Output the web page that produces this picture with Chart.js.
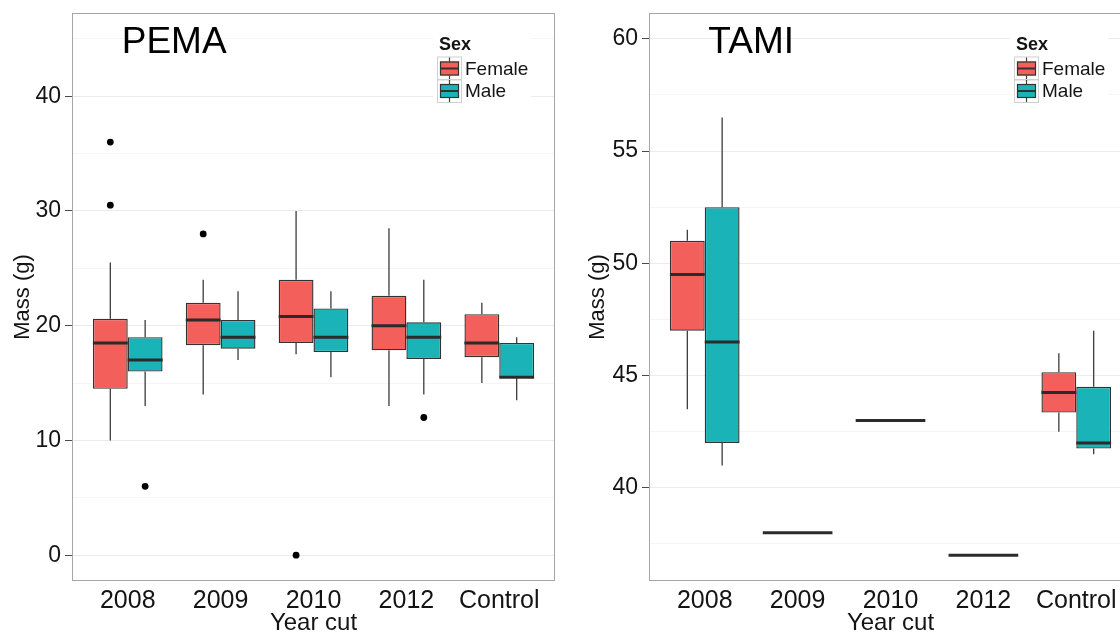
<!DOCTYPE html>
<html>
<head>
<meta charset="utf-8">
<script src="https://cdn.jsdelivr.net/npm/chart.js@4.4.1/dist/chart.umd.min.js"></script>
<style>
  html, body { margin: 0; padding: 0; background: #fff; overflow: hidden; }
  #wrap { position: relative; width: 1120px; height: 635px; overflow: hidden; background: #fff; }
  #pemaBox { position: absolute; left: 0; top: 0; width: 560px; height: 635px; }
  #tamiBox { position: absolute; left: 560px; top: 0; width: 600px; height: 635px; }
</style>
</head>
<body>
<div id="wrap">
  <div id="pemaBox"><canvas id="pemaChart" width="560" height="635"></canvas></div>
  <div id="tamiBox"><canvas id="tamiChart" width="600" height="635"></canvas></div>
</div>
<script>
const yearCut = ["2008", "2009", "2010", "2012", "Control"];
const sexes = ["Female", "Male"];
const sexColors = ["#F35F5A", "#1AB3B8"];

// box summaries per year cut: [lower whisker, Q1, median, Q3, upper whisker]
const pemaFemale = [
  [10, 14.5, 18.5, 20.6, 25.5],
  [14, 18.3, 20.5, 22, 24],
  [17.5, 18.5, 20.8, 24, 30],
  [13, 17.85, 20, 22.6, 28.5],
  [15, 17.25, 18.5, 21, 22],
];
const pemaMale = [
  [13, 16, 17, 19, 20.5],
  [17, 18, 19, 20.5, 23],
  [15.5, 17.7, 19, 21.5, 23],
  [14, 17.1, 19, 20.3, 24],
  [13.5, 15.5, 15.5, 18.5, 19],
];
const pemaFemaleOutliers = [[30.5, 36], [28], [0], [], []];
const pemaMaleOutliers = [[6], [], [], [12], []];

const tamiFemale = [
  [43.5, 47, 49.5, 51, 51.5],
  [38, 38, 38, 38, 38],
  [43, 43, 43, 43, 43],
  [37, 37, 37, 37, 37],
  [42.5, 43.35, 44.25, 45.15, 46],
];
const tamiMale = [
  [41, 42, 46.5, 52.5, 56.5],
  null,
  null,
  null,
  [41.5, 41.75, 42, 44.5, 47],
];
const tamiFemaleOutliers = [[], [], [], [], []];
const tamiMaleOutliers = [[], [], [], [], []];

const FONT = "'Liberation Sans', Arial, sans-serif";
const TEXT = "#141414";

// whiskers, medians and outlying points on top of the floating bars
const boxWhiskers = {
  id: "boxWhiskers",
  afterDatasetsDraw(chart) {
    const { ctx } = chart;
    const y = chart.scales.y;
    chart.data.datasets.forEach((ds, di) => {
      const meta = chart.getDatasetMeta(di);
      meta.data.forEach((bar, i) => {
        const s = ds.summary[i];
        if (!s) return;
        const half = bar.width / 2;
        ctx.save();
        ctx.strokeStyle = "#3c3c3c";
        ctx.lineWidth = 1.3;
        ctx.beginPath();
        ctx.moveTo(bar.x, y.getPixelForValue(s[3]));
        ctx.lineTo(bar.x, y.getPixelForValue(s[4]));
        ctx.moveTo(bar.x, y.getPixelForValue(s[1]));
        ctx.lineTo(bar.x, y.getPixelForValue(s[0]));
        ctx.stroke();

        ctx.strokeStyle = "#2b2b2b";
        ctx.lineWidth = 3;
        ctx.beginPath();
        const my = y.getPixelForValue(s[2]);
        ctx.moveTo(bar.x - half, my);
        ctx.lineTo(bar.x + half, my);
        ctx.stroke();

        ctx.fillStyle = "#000";
        (ds.outliers[i] || []).forEach((v) => {
          ctx.beginPath();
          ctx.arc(bar.x, y.getPixelForValue(v), 3.4, 0, Math.PI * 2);
          ctx.fill();
        });
        ctx.restore();
      });
    });
  },
};

// panel frame, species label and the Sex legend
const panelDecor = {
  id: "panelDecor",
  afterDraw(chart, args, opts) {
    const { ctx, chartArea: a, scales } = chart;
    ctx.save();
    ctx.strokeStyle = "#a6a6a6";
    ctx.lineWidth = 1;
    ctx.strokeRect(a.left + 0.5, a.top + 0.5, a.right - a.left - 1, a.bottom - a.top - 1);

    // species label placed in data coordinates
    ctx.fillStyle = "#000";
    ctx.font = "37px " + FONT;
    ctx.textAlign = "center";
    ctx.textBaseline = "alphabetic";
    ctx.fillText(opts.label, scales.x.getPixelForValue(opts.labelX), scales.y.getPixelForValue(opts.labelY) + 14);

    // legend
    const lx = a.right - 116;
    ctx.fillStyle = "#fff";
    ctx.fillRect(lx - 6, 28, 98, 78);
    ctx.fillStyle = TEXT;
    ctx.textAlign = "left";
    ctx.textBaseline = "middle";
    ctx.font = "bold 18px " + FONT;
    ctx.fillText("Sex", lx, 45);
    const rows = [68.5, 91];
    sexes.forEach((name, k) => {
      const cy = rows[k];
      const kx = lx - 2;
      ctx.strokeStyle = "#d0d0d0";
      ctx.lineWidth = 1;
      ctx.strokeRect(kx + 0.5, cy - 11.5, 24, 23);
      ctx.strokeStyle = "#3c3c3c";
      ctx.lineWidth = 1.2;
      ctx.beginPath();
      ctx.moveTo(kx + 12.5, cy - 11);
      ctx.lineTo(kx + 12.5, cy + 11);
      ctx.stroke();
      ctx.fillStyle = sexColors[k];
      ctx.fillRect(kx + 3, cy - 7, 19, 14);
      ctx.strokeStyle = "#333";
      ctx.strokeRect(kx + 3.5, cy - 6.5, 18, 13);
      ctx.lineWidth = 2;
      ctx.beginPath();
      ctx.moveTo(kx + 3, cy);
      ctx.lineTo(kx + 22, cy);
      ctx.stroke();
      ctx.fillStyle = TEXT;
      ctx.font = "19px " + FONT;
      ctx.fillText(name, lx + 26, cy + 1);
    });
    ctx.restore();
  },
};

function boxDataset(k, summary, outliers) {
  return {
    label: sexes[k],
    data: summary.map((s, i) => ({ x: i + 1, y: s ? [s[1], s[3]] : null })),
    summary: summary,
    outliers: outliers,
    backgroundColor: sexColors[k],
    borderColor: "#333333",
    borderWidth: 1.4,
    borderSkipped: false,
    categoryPercentage: 0.75,
    barPercentage: 1.0,
  };
}

function makePanel(canvasId, cfg) {
  const canvas = document.getElementById(canvasId);
  const area = cfg.area;
  return new Chart(canvas, {
    type: "bar",
    data: {
      datasets: [
        boxDataset(0, cfg.female, cfg.femaleOut),
        boxDataset(1, cfg.male, cfg.maleOut),
      ],
    },
    options: {
      responsive: false,
      animation: false,
      devicePixelRatio: 1,
      skipNull: true,
      layout: {
        padding: { left: 0, top: area.top, right: canvas.width - area.right, bottom: 0 },
      },
      scales: {
        x: {
          type: "linear",
          min: 0.4,
          max: 5.6,
          offset: false,
          afterFit(scale) {
            scale.height = canvas.height - area.bottom;
            scale.paddingLeft = 0;
            scale.paddingRight = 0;
          },
          afterBuildTicks(scale) {
            scale.ticks = yearCut.map((_, i) => ({ value: i + 1 }));
          },
          ticks: {
            autoSkip: false,
            maxRotation: 0,
            padding: 5,
            color: TEXT,
            font: { family: FONT, size: 25 },
            callback: (v) => yearCut[Math.round(v) - 1],
          },
          grid: { display: false, drawTicks: false, offset: false },
          border: { display: false },
          title: {
            display: true,
            text: "Year cut",
            color: TEXT,
            font: { family: FONT, size: 24, lineHeight: 1 },
            padding: { top: 0, bottom: 0 },
          },
        },
        y: {
          min: cfg.yMin,
          max: cfg.yMax,
          afterFit(scale) {
            scale.width = area.left;
            scale.paddingTop = 0;
            scale.paddingBottom = 0;
          },
          ticks: {
            stepSize: cfg.minorStep,
            includeBounds: false,
            autoSkip: false,
            padding: 4,
            color: TEXT,
            font: { family: FONT, size: 23 },
            callback: (v) => (Math.abs(v % cfg.majorStep) < 1e-6 ? String(v) : ""),
          },
          grid: {
            lineWidth: 1,
            tickLength: 7,
            color: (c) => (c.tick && Math.abs(c.tick.value % cfg.majorStep) < 1e-6 ? "#ebebeb" : "#f5f5f5"),
            tickColor: (c) => (c.tick && Math.abs(c.tick.value % cfg.majorStep) < 1e-6 ? "#4a4a4a" : "rgba(0,0,0,0)"),
          },
          border: { display: false },
          title: {
            display: true,
            text: "Mass (g)",
            color: TEXT,
            font: { family: FONT, size: 22, lineHeight: 1 },
            padding: { top: cfg.yTitlePad, bottom: 0 },
          },
        },
      },
      plugins: {
        legend: { display: false },
        tooltip: { enabled: false },
        panelDecor: { label: cfg.label, labelX: 1.5, labelY: cfg.labelY },
      },
    },
    plugins: [boxWhiskers, panelDecor],
  });
}

makePanel("pemaChart", {
  label: "PEMA",
  labelY: 45,
  female: pemaFemale,
  male: pemaMale,
  femaleOut: pemaFemaleOutliers,
  maleOut: pemaMaleOutliers,
  yMin: -2.25,
  yMax: 47.25,
  minorStep: 5,
  majorStep: 10,
  yTitlePad: 11.5,
  area: { left: 72, right: 555, top: 13, bottom: 581 },
});

makePanel("tamiChart", {
  label: "TAMI",
  labelY: 60,
  female: tamiFemale,
  male: tamiMale,
  femaleOut: tamiFemaleOutliers,
  maleOut: tamiMaleOutliers,
  yMin: 35.85,
  yMax: 61.15,
  minorStep: 2.5,
  majorStep: 5,
  yTitlePad: 26.5,
  area: { left: 89, right: 572, top: 13, bottom: 581 },
});
</script>
</body>
</html>
